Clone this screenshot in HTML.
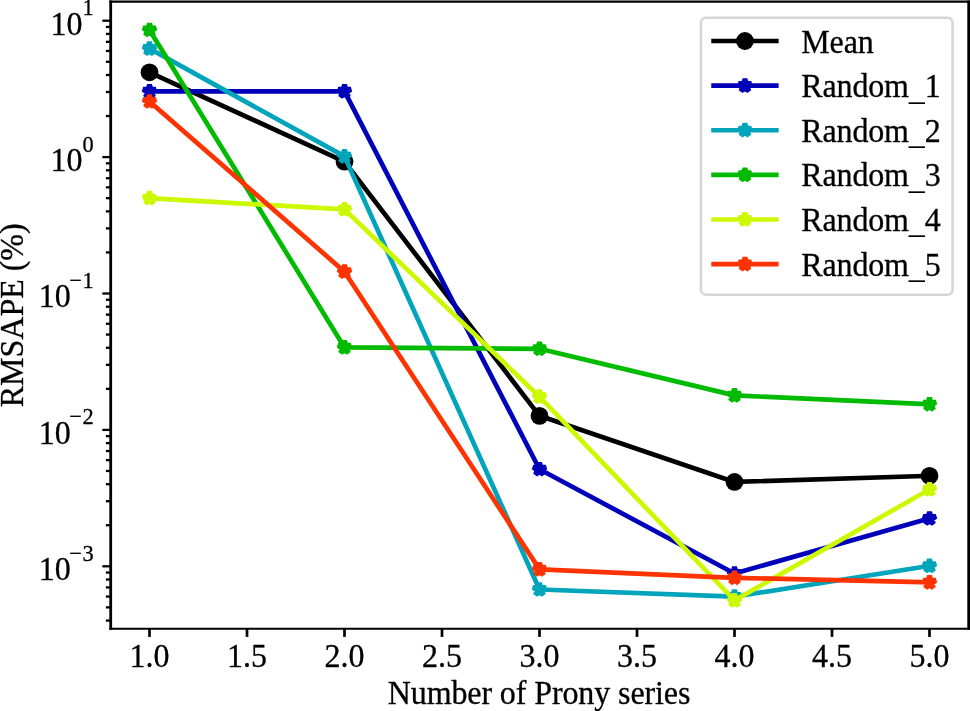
<!DOCTYPE html>
<html lang="en"><head><meta charset="utf-8"><title>RMSAPE vs Number of Prony series</title>
<style>html,body{margin:0;padding:0;background:#fff}body{width:970px;height:711px;overflow:hidden}text{fill:#000;stroke:#000;stroke-width:0.3px;stroke-linejoin:round}</style></head>
<body>
<svg width="970" height="711" viewBox="0 0 970 711" style="display:block;font-family:'Liberation Serif', 'Times New Roman', serif">
<rect width="970" height="711" fill="#ffffff"/>
<polyline points="149.50,72.30 344.50,161.60 539.50,415.85 734.50,481.95 929.50,475.80" fill="none" stroke="#000000" stroke-width="4.7" stroke-linejoin="round" stroke-linecap="square"/>
<circle cx="149.50" cy="72.30" r="8.9" fill="#000000"/>
<circle cx="344.50" cy="161.60" r="8.9" fill="#000000"/>
<circle cx="539.50" cy="415.85" r="8.9" fill="#000000"/>
<circle cx="734.50" cy="481.95" r="8.9" fill="#000000"/>
<circle cx="929.50" cy="475.80" r="8.9" fill="#000000"/>
<polyline points="149.50,91.40 344.50,91.40 539.50,469.25 734.50,573.50 929.50,518.50" fill="none" stroke="#0000bb" stroke-width="4.7" stroke-linejoin="round" stroke-linecap="square"/>
<polygon points="149.50,84.80 148.02,89.36 143.22,89.36 147.10,92.18 145.62,96.74 149.50,93.92 153.38,96.74 151.90,92.18 155.78,89.36 150.98,89.36" fill="#0000bb" stroke="#0000bb" stroke-width="5.0" stroke-linejoin="bevel"/>
<polygon points="344.50,84.80 343.02,89.36 338.22,89.36 342.10,92.18 340.62,96.74 344.50,93.92 348.38,96.74 346.90,92.18 350.78,89.36 345.98,89.36" fill="#0000bb" stroke="#0000bb" stroke-width="5.0" stroke-linejoin="bevel"/>
<polygon points="539.50,462.65 538.02,467.21 533.22,467.21 537.10,470.03 535.62,474.59 539.50,471.77 543.38,474.59 541.90,470.03 545.78,467.21 540.98,467.21" fill="#0000bb" stroke="#0000bb" stroke-width="5.0" stroke-linejoin="bevel"/>
<polygon points="734.50,566.90 733.02,571.46 728.22,571.46 732.10,574.28 730.62,578.84 734.50,576.02 738.38,578.84 736.90,574.28 740.78,571.46 735.98,571.46" fill="#0000bb" stroke="#0000bb" stroke-width="5.0" stroke-linejoin="bevel"/>
<polygon points="929.50,511.90 928.02,516.46 923.22,516.46 927.10,519.28 925.62,523.84 929.50,521.02 933.38,523.84 931.90,519.28 935.78,516.46 930.98,516.46" fill="#0000bb" stroke="#0000bb" stroke-width="5.0" stroke-linejoin="bevel"/>
<polyline points="149.50,48.60 344.50,156.40 539.50,589.50 734.50,596.60 929.50,565.85" fill="none" stroke="#00a4bb" stroke-width="4.7" stroke-linejoin="round" stroke-linecap="square"/>
<polygon points="149.50,42.00 148.02,46.56 143.22,46.56 147.10,49.38 145.62,53.94 149.50,51.12 153.38,53.94 151.90,49.38 155.78,46.56 150.98,46.56" fill="#00a4bb" stroke="#00a4bb" stroke-width="5.0" stroke-linejoin="bevel"/>
<polygon points="344.50,149.80 343.02,154.36 338.22,154.36 342.10,157.18 340.62,161.74 344.50,158.92 348.38,161.74 346.90,157.18 350.78,154.36 345.98,154.36" fill="#00a4bb" stroke="#00a4bb" stroke-width="5.0" stroke-linejoin="bevel"/>
<polygon points="539.50,582.90 538.02,587.46 533.22,587.46 537.10,590.28 535.62,594.84 539.50,592.02 543.38,594.84 541.90,590.28 545.78,587.46 540.98,587.46" fill="#00a4bb" stroke="#00a4bb" stroke-width="5.0" stroke-linejoin="bevel"/>
<polygon points="734.50,590.00 733.02,594.56 728.22,594.56 732.10,597.38 730.62,601.94 734.50,599.12 738.38,601.94 736.90,597.38 740.78,594.56 735.98,594.56" fill="#00a4bb" stroke="#00a4bb" stroke-width="5.0" stroke-linejoin="bevel"/>
<polygon points="929.50,559.25 928.02,563.81 923.22,563.81 927.10,566.63 925.62,571.19 929.50,568.37 933.38,571.19 931.90,566.63 935.78,563.81 930.98,563.81" fill="#00a4bb" stroke="#00a4bb" stroke-width="5.0" stroke-linejoin="bevel"/>
<polyline points="149.50,30.00 344.50,347.40 539.50,348.80 734.50,395.40 929.50,404.30" fill="none" stroke="#00bb00" stroke-width="4.7" stroke-linejoin="round" stroke-linecap="square"/>
<polygon points="149.50,23.40 148.02,27.96 143.22,27.96 147.10,30.78 145.62,35.34 149.50,32.52 153.38,35.34 151.90,30.78 155.78,27.96 150.98,27.96" fill="#00bb00" stroke="#00bb00" stroke-width="5.0" stroke-linejoin="bevel"/>
<polygon points="344.50,340.80 343.02,345.36 338.22,345.36 342.10,348.18 340.62,352.74 344.50,349.92 348.38,352.74 346.90,348.18 350.78,345.36 345.98,345.36" fill="#00bb00" stroke="#00bb00" stroke-width="5.0" stroke-linejoin="bevel"/>
<polygon points="539.50,342.20 538.02,346.76 533.22,346.76 537.10,349.58 535.62,354.14 539.50,351.32 543.38,354.14 541.90,349.58 545.78,346.76 540.98,346.76" fill="#00bb00" stroke="#00bb00" stroke-width="5.0" stroke-linejoin="bevel"/>
<polygon points="734.50,388.80 733.02,393.36 728.22,393.36 732.10,396.18 730.62,400.74 734.50,397.92 738.38,400.74 736.90,396.18 740.78,393.36 735.98,393.36" fill="#00bb00" stroke="#00bb00" stroke-width="5.0" stroke-linejoin="bevel"/>
<polygon points="929.50,397.70 928.02,402.26 923.22,402.26 927.10,405.08 925.62,409.64 929.50,406.82 933.38,409.64 931.90,405.08 935.78,402.26 930.98,402.26" fill="#00bb00" stroke="#00bb00" stroke-width="5.0" stroke-linejoin="bevel"/>
<polyline points="149.50,198.20 344.50,209.40 539.50,396.70 734.50,600.40 929.50,489.40" fill="none" stroke="#ccf900" stroke-width="4.7" stroke-linejoin="round" stroke-linecap="square"/>
<polygon points="149.50,191.60 148.02,196.16 143.22,196.16 147.10,198.98 145.62,203.54 149.50,200.72 153.38,203.54 151.90,198.98 155.78,196.16 150.98,196.16" fill="#ccf900" stroke="#ccf900" stroke-width="5.0" stroke-linejoin="bevel"/>
<polygon points="344.50,202.80 343.02,207.36 338.22,207.36 342.10,210.18 340.62,214.74 344.50,211.92 348.38,214.74 346.90,210.18 350.78,207.36 345.98,207.36" fill="#ccf900" stroke="#ccf900" stroke-width="5.0" stroke-linejoin="bevel"/>
<polygon points="539.50,390.10 538.02,394.66 533.22,394.66 537.10,397.48 535.62,402.04 539.50,399.22 543.38,402.04 541.90,397.48 545.78,394.66 540.98,394.66" fill="#ccf900" stroke="#ccf900" stroke-width="5.0" stroke-linejoin="bevel"/>
<polygon points="734.50,593.80 733.02,598.36 728.22,598.36 732.10,601.18 730.62,605.74 734.50,602.92 738.38,605.74 736.90,601.18 740.78,598.36 735.98,598.36" fill="#ccf900" stroke="#ccf900" stroke-width="5.0" stroke-linejoin="bevel"/>
<polygon points="929.50,482.80 928.02,487.36 923.22,487.36 927.10,490.18 925.62,494.74 929.50,491.92 933.38,494.74 931.90,490.18 935.78,487.36 930.98,487.36" fill="#ccf900" stroke="#ccf900" stroke-width="5.0" stroke-linejoin="bevel"/>
<polyline points="149.50,101.50 344.50,271.70 539.50,569.40 734.50,577.80 929.50,582.40" fill="none" stroke="#ff3300" stroke-width="4.7" stroke-linejoin="round" stroke-linecap="square"/>
<polygon points="149.50,94.90 148.02,99.46 143.22,99.46 147.10,102.28 145.62,106.84 149.50,104.02 153.38,106.84 151.90,102.28 155.78,99.46 150.98,99.46" fill="#ff3300" stroke="#ff3300" stroke-width="5.0" stroke-linejoin="bevel"/>
<polygon points="344.50,265.10 343.02,269.66 338.22,269.66 342.10,272.48 340.62,277.04 344.50,274.22 348.38,277.04 346.90,272.48 350.78,269.66 345.98,269.66" fill="#ff3300" stroke="#ff3300" stroke-width="5.0" stroke-linejoin="bevel"/>
<polygon points="539.50,562.80 538.02,567.36 533.22,567.36 537.10,570.18 535.62,574.74 539.50,571.92 543.38,574.74 541.90,570.18 545.78,567.36 540.98,567.36" fill="#ff3300" stroke="#ff3300" stroke-width="5.0" stroke-linejoin="bevel"/>
<polygon points="734.50,571.20 733.02,575.76 728.22,575.76 732.10,578.58 730.62,583.14 734.50,580.32 738.38,583.14 736.90,578.58 740.78,575.76 735.98,575.76" fill="#ff3300" stroke="#ff3300" stroke-width="5.0" stroke-linejoin="bevel"/>
<polygon points="929.50,575.80 928.02,580.36 923.22,580.36 927.10,583.18 925.62,587.74 929.50,584.92 933.38,587.74 931.90,583.18 935.78,580.36 930.98,580.36" fill="#ff3300" stroke="#ff3300" stroke-width="5.0" stroke-linejoin="bevel"/>
<line x1="149.50" y1="628.5" x2="149.50" y2="636.9" stroke="#000" stroke-width="2.7"/>
<text transform="translate(149.50,667.40) scale(1,1.022)" font-size="32.0" text-anchor="middle">1.0</text>
<line x1="247.00" y1="628.5" x2="247.00" y2="636.9" stroke="#000" stroke-width="2.7"/>
<text transform="translate(247.00,667.40) scale(1,1.022)" font-size="32.0" text-anchor="middle">1.5</text>
<line x1="344.50" y1="628.5" x2="344.50" y2="636.9" stroke="#000" stroke-width="2.7"/>
<text transform="translate(344.50,667.40) scale(1,1.022)" font-size="32.0" text-anchor="middle">2.0</text>
<line x1="442.00" y1="628.5" x2="442.00" y2="636.9" stroke="#000" stroke-width="2.7"/>
<text transform="translate(442.00,667.40) scale(1,1.022)" font-size="32.0" text-anchor="middle">2.5</text>
<line x1="539.50" y1="628.5" x2="539.50" y2="636.9" stroke="#000" stroke-width="2.7"/>
<text transform="translate(539.50,667.40) scale(1,1.022)" font-size="32.0" text-anchor="middle">3.0</text>
<line x1="637.00" y1="628.5" x2="637.00" y2="636.9" stroke="#000" stroke-width="2.7"/>
<text transform="translate(637.00,667.40) scale(1,1.022)" font-size="32.0" text-anchor="middle">3.5</text>
<line x1="734.50" y1="628.5" x2="734.50" y2="636.9" stroke="#000" stroke-width="2.7"/>
<text transform="translate(734.50,667.40) scale(1,1.022)" font-size="32.0" text-anchor="middle">4.0</text>
<line x1="832.00" y1="628.5" x2="832.00" y2="636.9" stroke="#000" stroke-width="2.7"/>
<text transform="translate(832.00,667.40) scale(1,1.022)" font-size="32.0" text-anchor="middle">4.5</text>
<line x1="929.50" y1="628.5" x2="929.50" y2="636.9" stroke="#000" stroke-width="2.7"/>
<text transform="translate(929.50,667.40) scale(1,1.022)" font-size="32.0" text-anchor="middle">5.0</text>
<line x1="110.7" y1="20.70" x2="102.3" y2="20.70" stroke="#000" stroke-width="2.3"/>
<text transform="translate(93.60,34.60) scale(1,1.022)" font-size="32.0" text-anchor="end">10<tspan font-size="22.400" dy="-18.9">1</tspan></text>
<line x1="110.7" y1="157.10" x2="102.3" y2="157.10" stroke="#000" stroke-width="2.3"/>
<text transform="translate(93.60,171.00) scale(1,1.022)" font-size="32.0" text-anchor="end">10<tspan font-size="22.400" dy="-18.9">0</tspan></text>
<line x1="110.7" y1="293.50" x2="102.3" y2="293.50" stroke="#000" stroke-width="2.3"/>
<text transform="translate(93.60,307.40) scale(1,1.022)" font-size="32.0" text-anchor="end">10<tspan font-size="22.400" dy="-18.9"><tspan dx="-1.5">−</tspan><tspan dx="0.5">1</tspan></tspan></text>
<line x1="110.7" y1="429.90" x2="102.3" y2="429.90" stroke="#000" stroke-width="2.3"/>
<text transform="translate(93.60,443.80) scale(1,1.022)" font-size="32.0" text-anchor="end">10<tspan font-size="22.400" dy="-18.9"><tspan dx="-1.5">−</tspan><tspan dx="0.5">2</tspan></tspan></text>
<line x1="110.7" y1="566.30" x2="102.3" y2="566.30" stroke="#000" stroke-width="2.3"/>
<text transform="translate(93.60,580.20) scale(1,1.022)" font-size="32.0" text-anchor="end">10<tspan font-size="22.400" dy="-18.9"><tspan dx="-1.5">−</tspan><tspan dx="0.5">3</tspan></tspan></text>
<line x1="110.7" y1="116.04" x2="105.9" y2="116.04" stroke="#000" stroke-width="2.3"/>
<line x1="110.7" y1="92.02" x2="105.9" y2="92.02" stroke="#000" stroke-width="2.3"/>
<line x1="110.7" y1="74.98" x2="105.9" y2="74.98" stroke="#000" stroke-width="2.3"/>
<line x1="110.7" y1="61.76" x2="105.9" y2="61.76" stroke="#000" stroke-width="2.3"/>
<line x1="110.7" y1="50.96" x2="105.9" y2="50.96" stroke="#000" stroke-width="2.3"/>
<line x1="110.7" y1="41.83" x2="105.9" y2="41.83" stroke="#000" stroke-width="2.3"/>
<line x1="110.7" y1="33.92" x2="105.9" y2="33.92" stroke="#000" stroke-width="2.3"/>
<line x1="110.7" y1="26.94" x2="105.9" y2="26.94" stroke="#000" stroke-width="2.3"/>
<line x1="110.7" y1="252.44" x2="105.9" y2="252.44" stroke="#000" stroke-width="2.3"/>
<line x1="110.7" y1="228.42" x2="105.9" y2="228.42" stroke="#000" stroke-width="2.3"/>
<line x1="110.7" y1="211.38" x2="105.9" y2="211.38" stroke="#000" stroke-width="2.3"/>
<line x1="110.7" y1="198.16" x2="105.9" y2="198.16" stroke="#000" stroke-width="2.3"/>
<line x1="110.7" y1="187.36" x2="105.9" y2="187.36" stroke="#000" stroke-width="2.3"/>
<line x1="110.7" y1="178.23" x2="105.9" y2="178.23" stroke="#000" stroke-width="2.3"/>
<line x1="110.7" y1="170.32" x2="105.9" y2="170.32" stroke="#000" stroke-width="2.3"/>
<line x1="110.7" y1="163.34" x2="105.9" y2="163.34" stroke="#000" stroke-width="2.3"/>
<line x1="110.7" y1="388.84" x2="105.9" y2="388.84" stroke="#000" stroke-width="2.3"/>
<line x1="110.7" y1="364.82" x2="105.9" y2="364.82" stroke="#000" stroke-width="2.3"/>
<line x1="110.7" y1="347.78" x2="105.9" y2="347.78" stroke="#000" stroke-width="2.3"/>
<line x1="110.7" y1="334.56" x2="105.9" y2="334.56" stroke="#000" stroke-width="2.3"/>
<line x1="110.7" y1="323.76" x2="105.9" y2="323.76" stroke="#000" stroke-width="2.3"/>
<line x1="110.7" y1="314.63" x2="105.9" y2="314.63" stroke="#000" stroke-width="2.3"/>
<line x1="110.7" y1="306.72" x2="105.9" y2="306.72" stroke="#000" stroke-width="2.3"/>
<line x1="110.7" y1="299.74" x2="105.9" y2="299.74" stroke="#000" stroke-width="2.3"/>
<line x1="110.7" y1="525.24" x2="105.9" y2="525.24" stroke="#000" stroke-width="2.3"/>
<line x1="110.7" y1="501.22" x2="105.9" y2="501.22" stroke="#000" stroke-width="2.3"/>
<line x1="110.7" y1="484.18" x2="105.9" y2="484.18" stroke="#000" stroke-width="2.3"/>
<line x1="110.7" y1="470.96" x2="105.9" y2="470.96" stroke="#000" stroke-width="2.3"/>
<line x1="110.7" y1="460.16" x2="105.9" y2="460.16" stroke="#000" stroke-width="2.3"/>
<line x1="110.7" y1="451.03" x2="105.9" y2="451.03" stroke="#000" stroke-width="2.3"/>
<line x1="110.7" y1="443.12" x2="105.9" y2="443.12" stroke="#000" stroke-width="2.3"/>
<line x1="110.7" y1="436.14" x2="105.9" y2="436.14" stroke="#000" stroke-width="2.3"/>
<line x1="110.7" y1="620.58" x2="105.9" y2="620.58" stroke="#000" stroke-width="2.3"/>
<line x1="110.7" y1="607.36" x2="105.9" y2="607.36" stroke="#000" stroke-width="2.3"/>
<line x1="110.7" y1="596.56" x2="105.9" y2="596.56" stroke="#000" stroke-width="2.3"/>
<line x1="110.7" y1="587.43" x2="105.9" y2="587.43" stroke="#000" stroke-width="2.3"/>
<line x1="110.7" y1="579.52" x2="105.9" y2="579.52" stroke="#000" stroke-width="2.3"/>
<line x1="110.7" y1="572.54" x2="105.9" y2="572.54" stroke="#000" stroke-width="2.3"/>
<line x1="109.3" y1="1.68" x2="970.1" y2="1.68" stroke="#000" stroke-width="2.35"/>
<line x1="109.3" y1="628.75" x2="970.1" y2="628.75" stroke="#000" stroke-width="2.15"/>
<line x1="110.7" y1="0.51" x2="110.7" y2="629.82" stroke="#000" stroke-width="2.8"/>
<line x1="968.7" y1="0.51" x2="968.7" y2="629.82" stroke="#000" stroke-width="2.8"/>
<text transform="translate(539.00,704.40) scale(1,1.022)" font-size="32.0" text-anchor="middle" letter-spacing="-0.1">Number of Prony series</text>
<text transform="translate(22.60,315.30) rotate(-90) scale(1,1.022)" font-size="32.0" text-anchor="middle">RMSAPE (%)</text>
<rect x="700.9" y="17.7" width="251.70000000000005" height="277.0" rx="5.2" ry="5.2" fill="#ffffff" fill-opacity="0.8" stroke="#d6d6d6" stroke-width="2.6"/>
<line x1="713.6" y1="41.00" x2="776.3" y2="41.00" stroke="#000000" stroke-width="4.7" stroke-linecap="square"/>
<circle cx="744.95" cy="41.00" r="8.9" fill="#000000"/>
<text transform="translate(801.30,52.50) scale(1,1.022)" font-size="32.0" text-anchor="start" letter-spacing="-0.15">Mean</text>
<line x1="713.6" y1="85.62" x2="776.3" y2="85.62" stroke="#0000bb" stroke-width="4.7" stroke-linecap="square"/>
<polygon points="744.95,79.02 743.47,83.58 738.67,83.58 742.55,86.40 741.07,90.96 744.95,88.14 748.83,90.96 747.35,86.40 751.23,83.58 746.43,83.58" fill="#0000bb" stroke="#0000bb" stroke-width="5.0" stroke-linejoin="bevel"/>
<text transform="translate(801.30,97.12) scale(1,1.022)" font-size="32.0" text-anchor="start" letter-spacing="-0.15">Random<tspan dy="2.4" stroke-width="0">_</tspan><tspan dy="-2.4">1</tspan></text>
<line x1="713.6" y1="130.24" x2="776.3" y2="130.24" stroke="#00a4bb" stroke-width="4.7" stroke-linecap="square"/>
<polygon points="744.95,123.64 743.47,128.20 738.67,128.20 742.55,131.02 741.07,135.58 744.95,132.76 748.83,135.58 747.35,131.02 751.23,128.20 746.43,128.20" fill="#00a4bb" stroke="#00a4bb" stroke-width="5.0" stroke-linejoin="bevel"/>
<text transform="translate(801.30,141.74) scale(1,1.022)" font-size="32.0" text-anchor="start" letter-spacing="-0.15">Random<tspan dy="2.4" stroke-width="0">_</tspan><tspan dy="-2.4">2</tspan></text>
<line x1="713.6" y1="174.86" x2="776.3" y2="174.86" stroke="#00bb00" stroke-width="4.7" stroke-linecap="square"/>
<polygon points="744.95,168.26 743.47,172.82 738.67,172.82 742.55,175.64 741.07,180.20 744.95,177.38 748.83,180.20 747.35,175.64 751.23,172.82 746.43,172.82" fill="#00bb00" stroke="#00bb00" stroke-width="5.0" stroke-linejoin="bevel"/>
<text transform="translate(801.30,186.36) scale(1,1.022)" font-size="32.0" text-anchor="start" letter-spacing="-0.15">Random<tspan dy="2.4" stroke-width="0">_</tspan><tspan dy="-2.4">3</tspan></text>
<line x1="713.6" y1="219.48" x2="776.3" y2="219.48" stroke="#ccf900" stroke-width="4.7" stroke-linecap="square"/>
<polygon points="744.95,212.88 743.47,217.44 738.67,217.44 742.55,220.26 741.07,224.82 744.95,222.00 748.83,224.82 747.35,220.26 751.23,217.44 746.43,217.44" fill="#ccf900" stroke="#ccf900" stroke-width="5.0" stroke-linejoin="bevel"/>
<text transform="translate(801.30,230.98) scale(1,1.022)" font-size="32.0" text-anchor="start" letter-spacing="-0.15">Random<tspan dy="2.4" stroke-width="0">_</tspan><tspan dy="-2.4">4</tspan></text>
<line x1="713.6" y1="264.10" x2="776.3" y2="264.10" stroke="#ff3300" stroke-width="4.7" stroke-linecap="square"/>
<polygon points="744.95,257.50 743.47,262.06 738.67,262.06 742.55,264.88 741.07,269.44 744.95,266.62 748.83,269.44 747.35,264.88 751.23,262.06 746.43,262.06" fill="#ff3300" stroke="#ff3300" stroke-width="5.0" stroke-linejoin="bevel"/>
<text transform="translate(801.30,275.60) scale(1,1.022)" font-size="32.0" text-anchor="start" letter-spacing="-0.15">Random<tspan dy="2.4" stroke-width="0">_</tspan><tspan dy="-2.4">5</tspan></text>
</svg>
</body></html>
